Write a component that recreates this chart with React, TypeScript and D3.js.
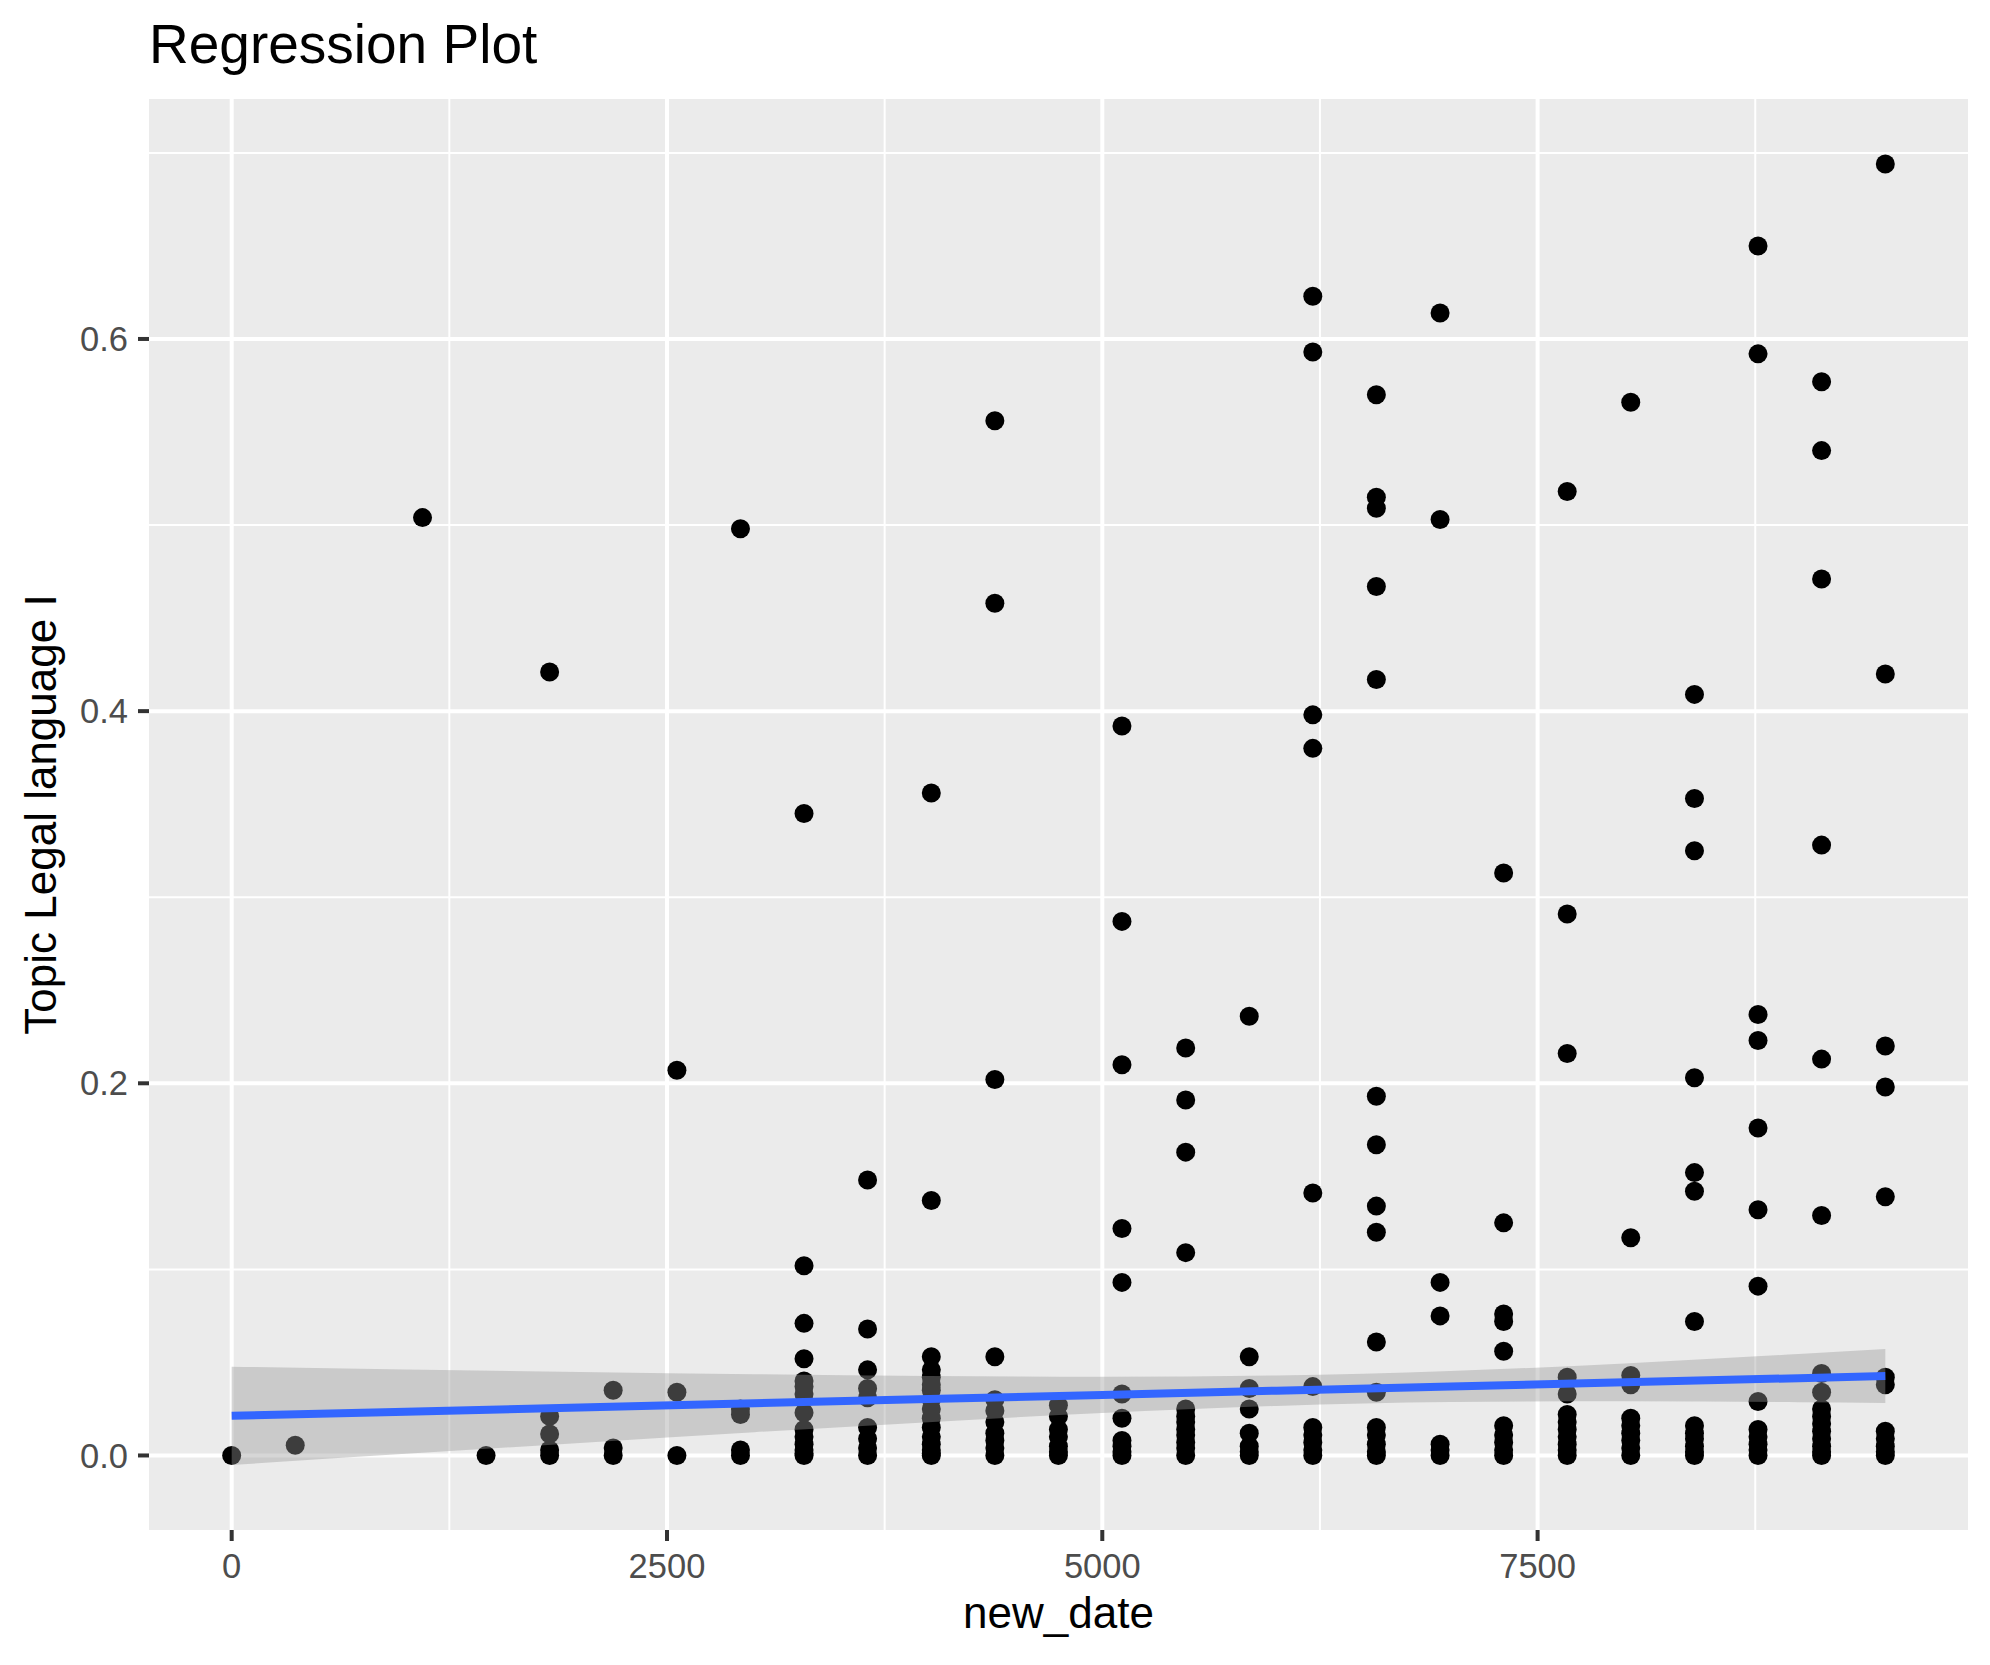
import React from 'react';
import * as d3 from 'd3';

// x: new_date (days), one column per year
const dayColumns = [0, 365, 1096, 1461, 1826, 2191, 2557, 2922, 3287, 3652, 4018, 4383, 4748, 5113, 5479, 5844, 6209, 6574, 6940, 7305, 7670, 8035, 8401, 8766, 9131, 9497];

// y: Topic Legal language I, values per column
const topicValues: number[][] = [
  [0],
  [0.0055],
  [0.504],
  [0],
  [0.421, 0.021, 0.0115, 0.003, 0],
  [0.035, 0.004, 0],
  [0.207, 0.034, 0],
  [0.498, 0.025, 0.022, 0.003, 0],
  [0.345, 0.102, 0.071, 0.052, 0.04, 0.037, 0.033, 0.023, 0.014, 0.01, 0.006, 0.003, 0.001, 0],
  [0.148, 0.068, 0.046, 0.036, 0.031, 0.015, 0.009, 0.004, 0],
  [0.356, 0.137, 0.053, 0.046, 0.042, 0.038, 0.035, 0.03, 0.025, 0.02, 0.015, 0.01, 0.006, 0.003, 0.001, 0],
  [0.556, 0.458, 0.202, 0.053, 0.03, 0.024, 0.018, 0.012, 0.008, 0.004, 0],
  [0.027, 0.021, 0.014, 0.01, 0.005, 0.002, 0],
  [0.392, 0.287, 0.21, 0.122, 0.093, 0.033, 0.02, 0.008, 0.005, 0.002, 0],
  [0.219, 0.191, 0.163, 0.109, 0.025, 0.021, 0.018, 0.014, 0.011, 0.007, 0.004, 0],
  [0.236, 0.053, 0.036, 0.025, 0.012, 0.005, 0.002, 0],
  [0.623, 0.593, 0.398, 0.38, 0.141, 0.037, 0.015, 0.011, 0.007, 0.003, 0],
  [0.57, 0.515, 0.509, 0.467, 0.417, 0.193, 0.167, 0.134, 0.12, 0.061, 0.034, 0.015, 0.011, 0.006, 0.002, 0],
  [0.614, 0.503, 0.093, 0.075, 0.006, 0.003, 0],
  [0.313, 0.125, 0.076, 0.072, 0.056, 0.016, 0.011, 0.007, 0.003, 0],
  [0.518, 0.291, 0.216, 0.042, 0.033, 0.022, 0.018, 0.014, 0.01, 0.006, 0.003, 0],
  [0.566, 0.117, 0.043, 0.038, 0.02, 0.016, 0.012, 0.008, 0.004, 0],
  [0.409, 0.353, 0.325, 0.203, 0.152, 0.142, 0.072, 0.016, 0.012, 0.009, 0.005, 0.002, 0],
  [0.65, 0.592, 0.237, 0.223, 0.176, 0.132, 0.091, 0.029, 0.014, 0.01, 0.006, 0.003, 0],
  [0.577, 0.54, 0.471, 0.328, 0.213, 0.129, 0.044, 0.034, 0.025, 0.021, 0.017, 0.013, 0.009, 0.005, 0.002, 0],
  [0.694, 0.42, 0.22, 0.198, 0.139, 0.042, 0.038, 0.013, 0.009, 0.005, 0.002, 0],
];

// linear smooth (fit and confidence band)
const smoothX = [0, 1000, 2000, 3000, 4000, 5000, 6000, 7000, 8000, 9000, 9497];
const smoothFit = [0.0213, 0.02355, 0.0258, 0.02805, 0.0303, 0.03255, 0.0348, 0.03705, 0.0393, 0.04155, 0.04267];
const smoothLower = [-0.0051, 0.0009, 0.0067, 0.0125, 0.0179, 0.0228, 0.0266, 0.0287, 0.0292, 0.0286, 0.0282];
const smoothUpper = [0.0477, 0.0462, 0.0449, 0.0437, 0.0427, 0.0423, 0.043, 0.0454, 0.0494, 0.0545, 0.0572];

const xMajor = [0, 2500, 5000, 7500];
const xMinor = [1250, 3750, 6250, 8750];
const yMajor = [0, 0.2, 0.4, 0.6];
const yMinor = [0.1, 0.3, 0.5, 0.7];

const titleText = 'Regression Plot';
const xTitle = 'new_date';
const yTitle = 'Topic Legal language I';

const FONT = '"Liberation Sans", Arial, Helvetica, sans-serif';

export default function App() {
  const W = 1990;
  const H = 1665;
  const panel = { left: 149, right: 1968, top: 99, bottom: 1530 };

  const points = dayColumns.flatMap((d, i) => topicValues[i].map((v) => ({ x: d, y: v })));

  const xExt = d3.extent(points, (p) => p.x) as [number, number];
  const xr = xExt[1] - xExt[0];
  const x = d3
    .scaleLinear()
    .domain([xExt[0] - 0.05 * xr, xExt[1] + 0.05 * xr])
    .range([panel.left, panel.right]);

  const yMinAll = Math.min(d3.min(points, (p) => p.y) as number, d3.min(smoothLower) as number);
  const yMaxAll = Math.max(d3.max(points, (p) => p.y) as number, d3.max(smoothUpper) as number);
  const yr = yMaxAll - yMinAll;
  const y = d3
    .scaleLinear()
    .domain([yMinAll - 0.05 * yr, yMaxAll + 0.05 * yr])
    .range([panel.bottom, panel.top]);

  const band = smoothX.map((sx, i) => ({ x: sx, lo: smoothLower[i], hi: smoothUpper[i], fit: smoothFit[i] }));
  const area = d3
    .area<any>()
    .x((d) => x(d.x))
    .y0((d) => y(d.lo))
    .y1((d) => y(d.hi))
    .curve(d3.curveMonotoneX);
  const line = d3
    .line<any>()
    .x((d) => x(d.x))
    .y((d) => y(d.fit));

  const cx = (panel.left + panel.right) / 2;
  const cy = (panel.top + panel.bottom) / 2;

  return (
    <svg
      width={W}
      height={H}
      style={{ position: 'absolute', left: 0, top: 0, display: 'block', background: '#ffffff' }}
      fontFamily={FONT}
    >
      <rect x={0} y={0} width={W} height={H} fill="#ffffff" />
      <defs>
        <clipPath id="panelClip">
          <rect x={panel.left} y={panel.top} width={panel.right - panel.left} height={panel.bottom - panel.top} />
        </clipPath>
      </defs>
      <rect
        x={panel.left}
        y={panel.top}
        width={panel.right - panel.left}
        height={panel.bottom - panel.top}
        fill="#EBEBEB"
      />
      <g clipPath="url(#panelClip)">
        {yMinor.map((v) => (
          <line key={'ymi' + v} x1={panel.left} x2={panel.right} y1={y(v)} y2={y(v)} stroke="#ffffff" strokeWidth={2} />
        ))}
        {xMinor.map((v) => (
          <line key={'xmi' + v} x1={x(v)} x2={x(v)} y1={panel.top} y2={panel.bottom} stroke="#ffffff" strokeWidth={2} />
        ))}
        {yMajor.map((v) => (
          <line key={'yma' + v} x1={panel.left} x2={panel.right} y1={y(v)} y2={y(v)} stroke="#ffffff" strokeWidth={4} />
        ))}
        {xMajor.map((v) => (
          <line key={'xma' + v} x1={x(v)} x2={x(v)} y1={panel.top} y2={panel.bottom} stroke="#ffffff" strokeWidth={4} />
        ))}
        {points.map((p, i) => (
          <circle key={'p' + i} cx={x(p.x)} cy={y(p.y)} r={9.5} fill="#000000" />
        ))}
        <path d={area(band) || ''} fill="#999999" fillOpacity={0.4} />
        <path d={line(band) || ''} fill="none" stroke="#3366FF" strokeWidth={8} />
      </g>

      {/* y axis */}
      {yMajor.map((v) => (
        <g key={'yt' + v}>
          <line x1={panel.left - 11} x2={panel.left} y1={y(v)} y2={y(v)} stroke="#333333" strokeWidth={4} />
          <text x={panel.left - 21} y={y(v)} dy="0.35em" textAnchor="end" fontSize={34.5} fill="#4D4D4D">
            {v.toFixed(1)}
          </text>
        </g>
      ))}
      {/* x axis */}
      {xMajor.map((v) => (
        <g key={'xt' + v}>
          <line x1={x(v)} x2={x(v)} y1={panel.bottom} y2={panel.bottom + 11} stroke="#333333" strokeWidth={4} />
          <text x={x(v)} y={1578} textAnchor="middle" fontSize={34.5} fill="#4D4D4D">
            {String(v)}
          </text>
        </g>
      ))}

      <text x={cx} y={1628} textAnchor="middle" fontSize={44} fill="#000000">
        {xTitle}
      </text>
      <text transform={`translate(56, ${cy}) rotate(-90)`} textAnchor="middle" fontSize={44} fill="#000000">
        {yTitle}
      </text>
      <text x={panel.left} y={63} fontSize={55} fill="#000000">
        {titleText}
      </text>
    </svg>
  );
}
